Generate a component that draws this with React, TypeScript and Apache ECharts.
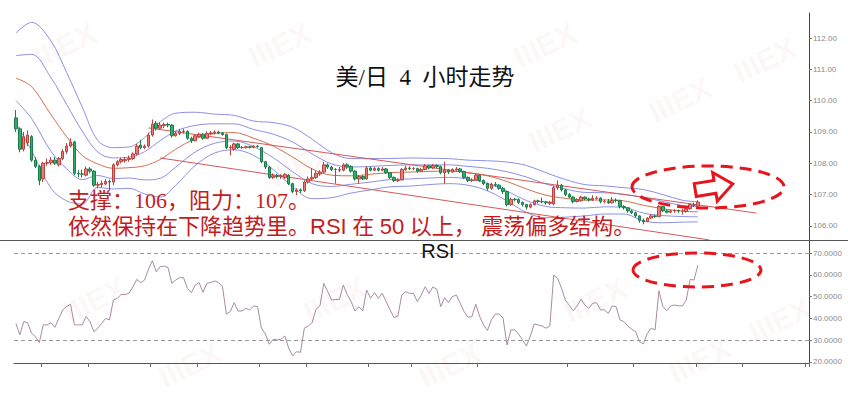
import React, { useEffect, useRef } from "react";
import * as echarts from "echarts";

// ---- data ----
const SLOTS = 204;

// [open, close, low, high]
const candles: number[][] = [
  [109.45, 109.10, 109.00, 109.70], [109.10, 108.45, 108.35, 109.15], [108.45, 108.85, 108.38, 109.00], [108.65, 108.90, 108.55, 109.05],
  [108.85, 108.10, 108.05, 108.90], [108.10, 107.90, 107.85, 108.20], [107.90, 107.45, 107.30, 107.95], [107.50, 108.00, 107.40, 108.05],
  [108.00, 108.02, 107.92, 108.15], [108.02, 108.10, 107.95, 108.20], [108.10, 108.00, 107.95, 108.20], [107.95, 108.15, 107.90, 108.20],
  [108.15, 108.38, 108.10, 108.45], [108.38, 108.55, 108.30, 108.65], [108.55, 108.68, 108.50, 108.80], [108.68, 107.68, 107.62, 108.72],
  [107.68, 107.66, 107.55, 107.78], [107.66, 107.65, 107.55, 107.80], [107.62, 107.82, 107.58, 107.90], [107.82, 107.75, 107.68, 107.88],
  [107.75, 107.30, 107.25, 107.78], [107.30, 107.32, 107.20, 107.40], [107.32, 107.36, 107.22, 107.45], [107.34, 107.42, 107.30, 107.50],
  [107.42, 107.40, 107.12, 107.48], [107.40, 107.95, 107.30, 108.00], [107.95, 108.05, 107.90, 108.10], [108.05, 108.12, 108.00, 108.18],
  [108.08, 108.12, 108.02, 108.20], [108.12, 108.15, 108.05, 108.25], [108.15, 108.30, 108.10, 108.35], [108.30, 108.55, 108.25, 108.62],
  [108.58, 108.50, 108.45, 108.75], [108.50, 108.55, 108.45, 108.60], [108.55, 108.90, 108.50, 108.98], [108.90, 109.25, 108.85, 109.40],
  [109.28, 109.12, 109.05, 109.35], [109.12, 109.22, 109.08, 109.32], [109.20, 109.24, 109.12, 109.30], [109.24, 109.22, 109.15, 109.30],
  [109.22, 108.88, 108.82, 109.25], [108.88, 108.95, 108.85, 109.02], [108.95, 109.02, 108.90, 109.10], [109.02, 109.02, 108.95, 109.10],
  [109.02, 108.80, 108.75, 109.05], [108.80, 108.72, 108.65, 108.85], [108.72, 108.88, 108.70, 108.92], [108.85, 108.93, 108.82, 108.98],
  [108.93, 108.80, 108.75, 108.96], [108.80, 108.95, 108.78, 109.02], [108.95, 108.97, 108.90, 109.03], [108.97, 109.00, 108.92, 109.05],
  [109.00, 108.97, 108.93, 109.04], [108.97, 108.92, 108.88, 109.00], [108.92, 108.50, 108.45, 108.95], [108.50, 108.52, 108.25, 108.58],
  [108.45, 108.62, 108.40, 108.66], [108.62, 108.50, 108.46, 108.65], [108.50, 108.50, 108.46, 108.55], [108.50, 108.53, 108.47, 108.56],
  [108.53, 108.51, 108.47, 108.55], [108.51, 108.55, 108.48, 108.58], [108.55, 108.54, 108.50, 108.58], [108.50, 108.05, 108.00, 108.52],
  [108.05, 107.88, 107.82, 108.08], [107.88, 107.55, 107.50, 107.92], [107.55, 107.60, 107.50, 107.68], [107.60, 107.58, 107.52, 107.66],
  [107.58, 107.60, 107.50, 107.65], [107.55, 107.65, 107.50, 107.68], [107.62, 107.35, 107.30, 107.65], [107.35, 107.10, 107.05, 107.38],
  [107.10, 107.15, 106.98, 107.20], [107.15, 107.12, 107.05, 107.20], [107.12, 107.40, 107.08, 107.45], [107.40, 107.50, 107.35, 107.58],
  [107.50, 107.55, 107.45, 107.85], [107.55, 107.68, 107.50, 107.75], [107.66, 107.72, 107.60, 107.78], [107.72, 107.95, 107.68, 108.05],
  [107.95, 107.88, 107.82, 108.00], [107.88, 107.80, 107.75, 107.92], [107.80, 107.80, 107.35, 107.85], [107.78, 107.80, 107.72, 107.88],
  [107.78, 107.95, 107.74, 108.00], [107.95, 107.88, 107.82, 108.00], [107.90, 107.75, 107.70, 107.94], [107.75, 107.50, 107.45, 107.78],
  [107.50, 107.58, 107.35, 107.62], [107.58, 107.50, 107.46, 107.62], [107.50, 107.85, 107.48, 107.90], [107.85, 107.78, 107.74, 107.90],
  [107.78, 107.83, 107.75, 107.88], [107.83, 107.78, 107.74, 107.87], [107.78, 107.82, 107.75, 107.88], [107.82, 107.70, 107.66, 107.85],
  [107.70, 107.55, 107.50, 107.72], [107.55, 107.45, 107.40, 107.58], [107.45, 107.47, 107.40, 107.52], [107.47, 107.80, 107.45, 107.85],
  [107.80, 107.85, 107.76, 107.92], [107.85, 107.83, 107.78, 107.90], [107.83, 107.83, 107.78, 107.88], [107.83, 107.75, 107.70, 107.86],
  [107.75, 107.80, 107.72, 107.85], [107.80, 107.92, 107.78, 107.98], [107.92, 107.85, 107.80, 107.95], [107.85, 107.93, 107.82, 107.98],
  [107.93, 107.90, 107.84, 107.96], [107.90, 107.70, 107.65, 107.92], [107.70, 107.78, 107.35, 108.05], [107.78, 107.72, 107.66, 107.82],
  [107.72, 107.80, 107.70, 107.84], [107.80, 107.82, 107.76, 107.88], [107.82, 107.74, 107.70, 107.85], [107.74, 107.55, 107.50, 107.76],
  [107.55, 107.45, 107.40, 107.58], [107.45, 107.46, 107.40, 107.52], [107.46, 107.62, 107.44, 107.66], [107.62, 107.45, 107.40, 107.64],
  [107.45, 107.35, 107.30, 107.48], [107.35, 107.20, 107.12, 107.38], [107.20, 107.33, 107.15, 107.38], [107.33, 107.30, 107.25, 107.40],
  [107.30, 107.20, 107.15, 107.34], [107.20, 107.10, 107.02, 107.24], [107.10, 106.68, 106.62, 107.12], [106.68, 106.85, 106.64, 106.90],
  [106.85, 106.84, 106.78, 106.90], [106.84, 106.75, 106.70, 106.88], [106.75, 106.68, 106.62, 106.78], [106.68, 106.60, 106.52, 106.70],
  [106.60, 106.68, 106.56, 106.72], [106.68, 106.80, 106.65, 106.84], [106.80, 106.78, 106.72, 106.84], [106.78, 106.77, 106.72, 106.90],
  [106.77, 106.74, 106.68, 106.80], [106.72, 106.76, 106.66, 106.80], [106.70, 107.22, 106.66, 107.28], [107.22, 107.30, 107.15, 107.45],
  [107.30, 107.15, 107.10, 107.34], [107.15, 107.00, 106.95, 107.18], [107.00, 106.92, 106.88, 107.05], [106.92, 106.78, 106.72, 106.95],
  [106.78, 106.84, 106.75, 106.88], [106.80, 106.92, 106.78, 106.96], [106.92, 106.86, 106.82, 106.94], [106.86, 106.83, 106.78, 106.90],
  [106.83, 106.88, 106.80, 106.98], [106.88, 106.89, 106.84, 106.95], [106.89, 106.78, 106.72, 106.92], [106.78, 106.78, 106.72, 106.84],
  [106.78, 106.74, 106.70, 106.86], [106.74, 106.82, 106.72, 106.92], [106.82, 106.81, 106.75, 106.88], [106.81, 106.62, 106.56, 106.84],
  [106.62, 106.58, 106.52, 106.66], [106.58, 106.48, 106.42, 106.60], [106.48, 106.42, 106.38, 106.52], [106.42, 106.32, 106.26, 106.45],
  [106.32, 106.18, 106.10, 106.34], [106.18, 106.14, 106.05, 106.24], [106.14, 106.25, 106.12, 106.28], [106.25, 106.32, 106.22, 106.38],
  [106.32, 106.30, 106.25, 106.36], [106.30, 106.62, 106.28, 106.66], [106.62, 106.48, 106.44, 106.64], [106.48, 106.44, 106.40, 106.52],
  [106.44, 106.48, 106.40, 106.52], [106.48, 106.49, 106.42, 106.54], [106.49, 106.48, 106.42, 106.52], [106.48, 106.48, 106.36, 106.54],
  [106.46, 106.55, 106.42, 106.58], [106.55, 106.68, 106.52, 106.72], [106.66, 106.66, 106.60, 106.74], [106.64, 106.76, 106.60, 106.82],
];

const rsi: number[] = [
  37.7, 32.4, 38.5, 38.0, 33.2, 31.6, 28.9, 37.0, 37.0, 38.0,
  35.9, 40.0, 43.9, 45.4, 46.5, 37.0, 37.0, 37.0, 40.8, 38.5,
  33.9, 35.5, 37.7, 40.0, 39.3, 48.4, 49.2, 51.0, 51.0, 51.5,
  54.5, 57.9, 56.4, 57.6, 62.5, 66.5, 61.4, 63.7, 64.0, 63.4,
  56.1, 57.6, 58.7, 58.7, 53.8, 51.8, 55.3, 56.4, 52.0, 56.1,
  56.5, 57.2, 56.4, 54.5, 42.0, 43.1, 47.2, 43.4, 43.4, 44.6,
  43.9, 45.7, 45.4, 35.5, 32.8, 28.1, 30.4, 30.1, 30.4, 31.9,
  26.3, 22.8, 24.7, 24.4, 35.5, 36.5, 38.0, 44.2, 45.7, 56.1,
  52.3, 48.4, 48.7, 48.7, 55.3, 51.0, 47.7, 43.4, 45.4, 43.4,
  53.0, 49.2, 51.8, 49.2, 51.5, 47.7, 43.9, 40.4, 41.1, 50.7,
  52.3, 51.5, 51.5, 47.7, 50.7, 54.5, 51.5, 54.5, 53.3, 45.4,
  49.5, 47.2, 50.0, 50.7, 47.0, 43.1, 40.5, 40.8, 46.5, 40.8,
  37.0, 34.4, 39.3, 42.0, 42.0, 40.0, 27.8, 34.7, 34.7, 32.8,
  30.0, 27.3, 31.9, 37.4, 37.0, 36.5, 35.5, 36.5, 59.9, 58.4,
  53.8, 48.4, 46.0, 43.5, 45.7, 48.8, 46.1, 44.6, 46.9, 47.2,
  43.9, 43.9, 42.3, 45.7, 45.4, 39.3, 38.5, 36.5, 35.0, 33.9,
  29.3, 28.3, 33.0, 35.5, 34.7, 52.7, 45.4, 43.5, 45.7, 46.1,
  45.8, 45.7, 48.4, 57.9, 57.6, 64.5,
];

// Bollinger lines, read at these candle indices
const bandIdx = [0, 4, 9, 13, 17, 21, 25, 29, 33, 37, 41, 46, 51, 56, 61, 66, 71, 76, 81, 86, 91, 96, 101, 106, 111, 116, 121, 126, 131, 136, 141, 146, 151, 156, 161, 166, 171, 175];
const upper2 = [112.16, 112.50, 111.90, 110.90, 109.80, 108.73, 108.50, 108.52, 108.82, 109.32, 109.60, 109.63, 109.57, 109.53, 109.35, 109.30, 109.15, 108.77, 108.34, 108.15, 108.15, 108.15, 108.17, 108.16, 108.15, 108.10, 108.08, 108.04, 107.93, 107.70, 107.48, 107.32, 107.28, 107.22, 107.16, 107.00, 106.82, 106.77];
const upper1 = [111.44, 111.48, 110.73, 109.88, 109.03, 108.36, 108.17, 108.19, 108.37, 108.72, 109.03, 109.21, 109.26, 109.26, 109.08, 108.93, 108.68, 108.30, 107.98, 107.88, 107.90, 107.93, 107.95, 107.95, 107.95, 107.90, 107.84, 107.73, 107.56, 107.34, 107.18, 107.07, 107.06, 107.01, 106.91, 106.78, 106.65, 106.61];
const middle = [110.72, 110.45, 109.55, 108.85, 108.25, 107.98, 107.84, 107.86, 107.92, 108.12, 108.45, 108.78, 108.95, 108.98, 108.80, 108.55, 108.20, 107.82, 107.62, 107.60, 107.65, 107.70, 107.72, 107.74, 107.75, 107.70, 107.60, 107.42, 107.18, 106.98, 106.88, 106.82, 106.83, 106.80, 106.66, 106.55, 106.47, 106.45];
const lower1 = [110.00, 109.43, 108.38, 107.83, 107.48, 107.61, 107.51, 107.53, 107.47, 107.52, 107.88, 108.36, 108.64, 108.71, 108.53, 108.18, 107.73, 107.35, 107.26, 107.33, 107.40, 107.48, 107.50, 107.53, 107.55, 107.50, 107.36, 107.11, 106.81, 106.62, 106.58, 106.57, 106.61, 106.59, 106.41, 106.33, 106.30, 106.29];
const lower2 = [109.28, 108.40, 107.20, 106.80, 106.70, 107.23, 107.18, 107.20, 107.02, 106.92, 107.30, 107.93, 108.33, 108.43, 108.25, 107.80, 107.25, 106.87, 106.90, 107.05, 107.15, 107.25, 107.27, 107.32, 107.35, 107.30, 107.12, 106.80, 106.43, 106.26, 106.28, 106.32, 106.38, 106.38, 106.16, 106.10, 106.12, 106.13];

// hand-drawn trend lines [index, price]
const trendUpper = [[34, 109.13], [190, 106.41]];
const trendLower = [[37, 108.17], [178, 105.55]];

const priceTicks = [106, 107, 108, 109, 110, 111, 112];
const rsiTicks = [20, 30, 40, 50, 60, 70];
const rsiLevels = [70, 30];
const dayTicks = [7, 19, 35, 47, 63, 75, 91, 102, 119, 142, 159, 175, 187, 203];

const titleText = "美/日  4  小时走势";
const noteLine1 = "支撑：106，阻力：107。";
const noteLine2a = "依然保持在下降趋势里。";
const noteLine2b = "RSI";
const noteLine2c = " 在 ";
const noteLine2d = "50";
const noteLine2e = " 以上， 震荡偏多结构。";

const watermarkSpots = [
  [65, 45], [280, 45], [545, 45], [765, 60], [680, 100],
  [300, 165], [560, 130],
  [95, 300], [335, 300], [595, 300], [780, 320],
  [190, 365], [450, 365], [700, 360],
];

const SERIF_CJK = '"Liberation Serif","Noto Sans CJK SC",serif';
const SANS = '"Liberation Sans",Arial,sans-serif';
const BLUE = "#8c90e4";
const RED_MID = "#d0714f";
const RED_TREND = "#d65858";
const NOTE_RED = "#c41c1c";
const MARK_RED = "#e8141c";

export default function App() {
  const ref = useRef<HTMLDivElement>(null);

  useEffect(() => {
    if (!ref.current) return;
    const chart = echarts.init(ref.current, null, { renderer: "svg" });
    const cats = Array.from({ length: SLOTS }, (_, i) => String(i));
    const band = (vals: number[]) => bandIdx.map((k, j) => [k, vals[j]]);
    const bandSeries = (name: string, vals: number[], color: string) => ({
      name,
      type: "line",
      xAxisIndex: 0,
      yAxisIndex: 0,
      data: band(vals),
      smooth: 0.35,
      symbol: "none",
      z: 1,
      lineStyle: { color, width: 1 },
      silent: true,
    });

    const graphics: any[] = [];
    watermarkSpots.forEach(([x, y]) => {
      graphics.push({
        type: "text",
        x,
        y,
        rotation: 0.45,
        z: 0,
        silent: true,
        style: {
          text: "IIIEX",
          fill: "rgba(225,120,120,0.07)",
          font: "bold 30px " + SANS,
          align: "center",
          verticalAlign: "middle",
          textAlign: "center",
          textVerticalAlign: "middle",
        },
      });
    });
    graphics.push(
      {
        type: "line",
        z: 50,
        shape: { x1: 0, y1: 240.5, x2: 848, y2: 240.5 },
        style: { stroke: "#555", lineWidth: 1 },
      },
      {
        type: "text",
        x: 425,
        y: 77,
        z: 60,
        style: {
          text: titleText,
          fill: "#111",
          font: "23px " + SERIF_CJK,
          align: "center",
          verticalAlign: "middle",
          textAlign: "center",
          textVerticalAlign: "middle",
        },
      },
      {
        type: "text",
        x: 68,
        y: 200,
        z: 60,
        style: {
          text: noteLine1,
          fill: NOTE_RED,
          font: "22px " + SERIF_CJK,
          align: "left",
          verticalAlign: "middle",
          textAlign: "left",
          textVerticalAlign: "middle",
        },
      },
      {
        type: "text",
        x: 68,
        y: 226,
        z: 60,
        style: {
          text: `{c|${noteLine2a}}{l|${noteLine2b}}{c|${noteLine2c}}{l|${noteLine2d}}{c|${noteLine2e}}`,
          fill: NOTE_RED,
          align: "left",
          verticalAlign: "middle",
          textAlign: "left",
          textVerticalAlign: "middle",
          rich: {
            c: { fontSize: 22, fontFamily: SERIF_CJK, fill: NOTE_RED, color: NOTE_RED },
            l: { fontSize: 22, fontFamily: SANS, fill: NOTE_RED, color: NOTE_RED },
          },
        },
      },
      {
        type: "text",
        x: 438,
        y: 251,
        z: 60,
        style: {
          text: "RSI",
          fill: "#111",
          font: "20px " + SANS,
          align: "center",
          verticalAlign: "middle",
          textAlign: "center",
          textVerticalAlign: "middle",
        },
      },
      {
        type: "ellipse",
        z: 70,
        shape: { cx: 708, cy: 187, rx: 76, ry: 21 },
        style: { fill: "none", stroke: MARK_RED, lineWidth: 3, lineDash: [12, 7] },
      },
      {
        type: "ellipse",
        z: 70,
        shape: { cx: 697, cy: 270, rx: 64, ry: 17 },
        style: { fill: "none", stroke: MARK_RED, lineWidth: 3, lineDash: [12, 7] },
      },
      {
        type: "polygon",
        x: 714,
        y: 187,
        rotation: 0.16,
        z: 71,
        shape: {
          points: [[-19, -6.5], [1, -6.5], [1, -14.5], [19, 0], [1, 14.5], [1, 6.5], [-19, 6.5]],
        },
        style: { fill: "#fff", stroke: MARK_RED, lineWidth: 3 },
      }
    );

    const option: any = {
      animation: false,
      backgroundColor: "#fff",
      grid: [
        { left: 14, right: 39, top: 13, height: 227 },
        { left: 14, right: 39, top: 240, height: 123 },
      ],
      xAxis: [
        {
          type: "category",
          gridIndex: 0,
          data: cats,
          boundaryGap: true,
          show: false,
        },
        {
          type: "category",
          gridIndex: 1,
          data: cats,
          boundaryGap: true,
          axisLine: { show: true, lineStyle: { color: "#555", width: 1 } },
          axisTick: {
            show: true,
            length: 4,
            interval: (idx: number) => dayTicks.includes(idx),
            lineStyle: { color: "#666" },
          },
          axisLabel: { show: false },
          splitLine: { show: false },
        },
      ],
      yAxis: [
        {
          type: "value",
          gridIndex: 0,
          position: "right",
          min: 105.55,
          max: 112.8,
          axisLine: { show: true, lineStyle: { color: "#444", width: 1 } },
          axisTick: { show: true, length: 3, lineStyle: { color: "#777" }, customValues: priceTicks },
          axisLabel: {
            customValues: priceTicks,
            formatter: (v: number) => v.toFixed(2),
            color: "#8a8a8a",
            fontSize: 8,
            margin: 4,
            fontFamily: SANS,
          },
          splitLine: { show: false },
        },
        {
          type: "value",
          gridIndex: 1,
          position: "right",
          min: 19.5,
          max: 76,
          axisLine: { show: true, lineStyle: { color: "#444", width: 1 } },
          axisTick: { show: true, length: 3, lineStyle: { color: "#777" }, customValues: rsiTicks },
          axisLabel: {
            customValues: rsiTicks,
            formatter: (v: number) => v.toFixed(4),
            color: "#8a8a8a",
            fontSize: 8,
            margin: 4,
            fontFamily: SANS,
          },
          splitLine: { show: false },
        },
      ],
      series: [
        bandSeries("upper2", upper2, BLUE),
        bandSeries("upper1", upper1, BLUE),
        bandSeries("middle", middle, RED_MID),
        bandSeries("lower1", lower1, BLUE),
        bandSeries("lower2", lower2, BLUE),
        {
          name: "trendUpper",
          type: "line",
          xAxisIndex: 0,
          yAxisIndex: 0,
          data: trendUpper,
          symbol: "none",
          z: 1,
          lineStyle: { color: RED_TREND, width: 1 },
          silent: true,
        },
        {
          name: "trendLower",
          type: "line",
          xAxisIndex: 0,
          yAxisIndex: 0,
          data: trendLower,
          symbol: "none",
          z: 1,
          lineStyle: { color: RED_TREND, width: 1 },
          silent: true,
        },
        {
          name: "USDJPY",
          type: "candlestick",
          xAxisIndex: 0,
          yAxisIndex: 0,
          data: candles,
          barWidth: 3,
          z: 3,
          itemStyle: {
            color: "#e57f78",
            color0: "#2fae6c",
            borderColor: "#b8433f",
            borderColor0: "#1d7d4a",
            borderWidth: 1,
          },
        },
        {
          name: "RSI",
          type: "line",
          xAxisIndex: 1,
          yAxisIndex: 1,
          data: rsi,
          symbol: "none",
          lineStyle: { color: "#a98aa2", width: 1 },
          markLine: {
            silent: true,
            symbol: "none",
            label: { show: false },
            lineStyle: { type: [4, 3], color: "#9a9a9a", width: 1 },
            data: rsiLevels.map((v) => ({ yAxis: v })),
          },
        },
      ],
      graphic: graphics,
    };

    chart.setOption(option);
    return () => chart.dispose();
  }, []);

  return <div ref={ref} style={{ width: 848, height: 403, position: "absolute", left: 0, top: 0 }} />;
}
